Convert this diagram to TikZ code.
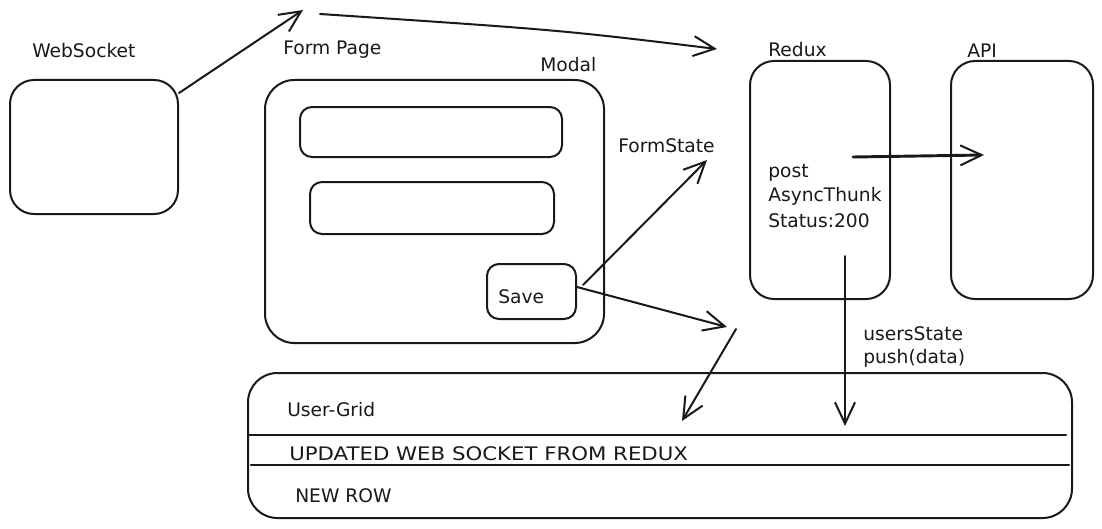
\documentclass[tikz,border=0pt]{standalone}
\usepackage{fontspec}
\setmainfont{DejaVu Sans}
\usetikzlibrary{arrows.meta,fit}
\begin{document}
\begin{tikzpicture}[x=0.75pt,y=-0.75pt,
  ink/.style={draw=black!90, line width=1.5pt, line cap=round, line join=round},
  box/.style={ink, inner sep=0pt, rounded corners=18pt},
  smallbox/.style={ink, inner sep=0pt, rounded corners=9pt},
  arr/.style={ink, -{Straight Barb[length=16pt,width=15pt,line width=1.5pt]}},
  lbl/.style={anchor=base west, inner sep=0pt, font=\fontsize{14pt}{18.6pt}\selectfont, text=black!90}
]
\useasboundingbox (0,0) rectangle (1102,528);
\fill[white] (0,0) rectangle (1102,528);

% corner points of the boxes
\coordinate (ws1) at (10,80);    \coordinate (ws2) at (178,214);
\coordinate (fp1) at (265,80);   \coordinate (fp2) at (604,343);
\coordinate (in1a) at (300,107); \coordinate (in1b) at (562,157);
\coordinate (in2a) at (310,182); \coordinate (in2b) at (554,234);
\coordinate (sv1) at (487,264);  \coordinate (sv2) at (576,319);
\coordinate (rd1) at (750,61);   \coordinate (rd2) at (890,299);
\coordinate (ap1) at (951,61);   \coordinate (ap2) at (1093,299);
\coordinate (ug1) at (248,373);  \coordinate (ug2) at (1072,518);

% boxes
\node[box, fit=(ws1)(ws2)] (ws) {};
\node[box, rounded corners=22pt, fit=(fp1)(fp2)] (form) {};
\node[smallbox, fit=(in1a)(in1b)] (input1) {};
\node[smallbox, fit=(in2a)(in2b)] (input2) {};
\node[smallbox, fit=(sv1)(sv2)] (save) {};
\node[box, fit=(rd1)(rd2)] (redux) {};
\node[box, fit=(ap1)(ap2)] (api) {};
\node[box, rounded corners=22pt, fit=(ug1)(ug2)] (grid) {};

% row separators of the grid
\coordinate (r1a) at (248,435); \coordinate (r1b) at (1066,435);
\coordinate (r2a) at (251,465); \coordinate (r2b) at (1069,465);
\draw[ink, line width=1.8pt] (r1a) -- (r1b);
\draw[ink, line width=1.8pt] (r2a) -- (r2b);

% labels
\node[lbl] (tws) at (32,58) {WebSocket};
\node[lbl] (tfp) at (283,55) {Form Page};
\node[lbl] (tmodal) at (540,71) {Modal};
\node[lbl] (tfs) at (618,152) {FormState};
\node[lbl] (trd) at (768,57) {Redux};
\node[lbl] (tapi) at (967,58) {API};
\node[lbl] (tsave) at (498,303) {Save};
\node[lbl] (tpost) at (768,177) {post};
\node[lbl] (tthunk) at (768,201) {AsyncThunk};
\node[lbl] (tstatus) at (768,227) {Status:200};
\node[lbl] (tus) at (863,340) {usersState};
\node[lbl] (tpush) at (863,363) {push(data)};
\node[lbl] (tug) at (287,416) {User-Grid};
\node[lbl] (tupd) at (289,460) {\scalebox{1.14}[1]{UPDATED WEB SOCKET FROM REDUX}};
\node[lbl] (tnew) at (295,502) {NEW ROW};

% connector end points
\coordinate (a1s) at (179,93);  \coordinate (a1e) at (303,10);
\coordinate (a2s) at (320,14);  \coordinate (a2e) at (717,49);
\coordinate (a3s) at (583,285); \coordinate (a3e) at (707,160);
\coordinate (a4s) at (577,287); \coordinate (a4e) at (727,327);
\coordinate (a5s) at (736,329); \coordinate (a5e) at (682,421);
\coordinate (a6s) at (853,157); \coordinate (a6e) at (984,155);
\coordinate (a7s) at (845,256); \coordinate (a7e) at (845,426);

% connectors
\draw[arr] (a1s) -- (a1e);
\draw[arr] (a2s) .. controls (560,30) .. (a2e);
\draw[arr] (a3s) -- (a3e);
\draw[arr] (a4s) -- (a4e);
\draw[arr] (a5s) -- (a5e);
\draw[arr, line width=2.2pt] (a6s) -- (a6e);
\draw[arr] (a7s) -- (a7e);
\end{tikzpicture}
\end{document}
